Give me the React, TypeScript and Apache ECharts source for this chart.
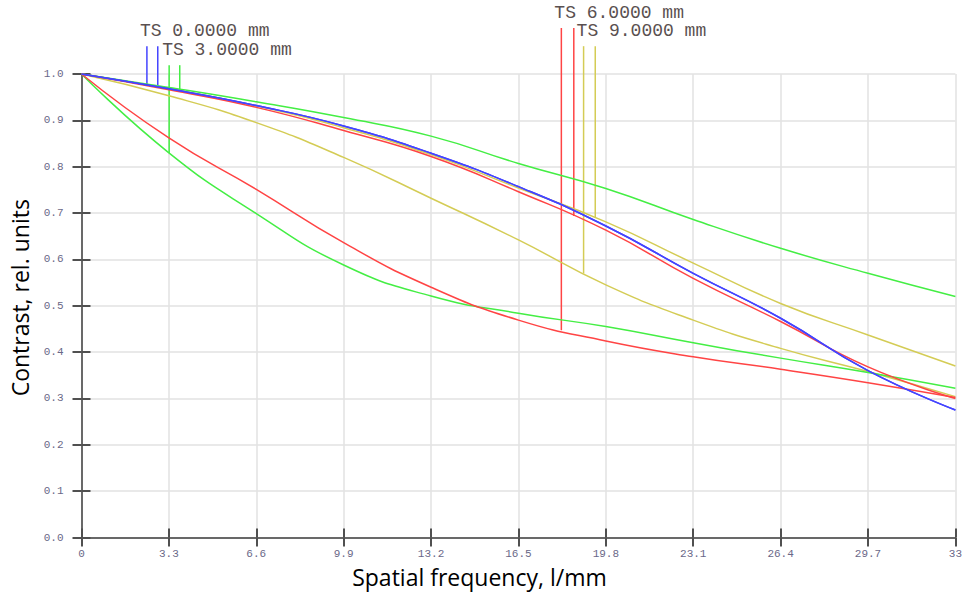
import React, { useEffect, useRef } from "react";
import * as echarts from "echarts";

// ---- data ----
const freq = [0, 3.3, 6.6, 9.9, 13.2, 16.5, 19.8, 23.1, 26.4, 29.7, 33];
const ts0T = [1, 0.968, 0.932, 0.888, 0.829, 0.757, 0.672, 0.57, 0.473, 0.36, 0.275];
const ts0S = [1, 0.968, 0.932, 0.888, 0.829, 0.757, 0.672, 0.57, 0.473, 0.36, 0.275];
const ts3T = [1, 0.83, 0.699, 0.588, 0.521, 0.484, 0.455, 0.42, 0.387, 0.356, 0.322];
const ts3S = [1, 0.971, 0.94, 0.906, 0.866, 0.807, 0.753, 0.686, 0.624, 0.57, 0.52];
const ts6T = [1, 0.862, 0.751, 0.636, 0.54, 0.469, 0.424, 0.39, 0.363, 0.334, 0.302];
const ts6S = [1, 0.966, 0.928, 0.878, 0.822, 0.746, 0.663, 0.559, 0.466, 0.368, 0.3];
const ts9T = [1, 0.953, 0.895, 0.82, 0.732, 0.642, 0.545, 0.469, 0.408, 0.358, 0.304];
const ts9S = [1, 0.968, 0.931, 0.884, 0.826, 0.754, 0.681, 0.592, 0.505, 0.437, 0.37];

const fieldLabels = ["TS 0.0000 mm", "TS 3.0000 mm", "TS 6.0000 mm", "TS 9.0000 mm"];
// marker frequencies (T then S for each field)
const markerFreq = [2.47, 2.88, 3.31, 3.71, 18.12, 18.59, 18.96, 19.4];
const markerField = [0, 0, 1, 1, 2, 2, 3, 3];

// ---- styles / layout ----
const fieldColors = ["#4444ff", "#44ee44", "#ff4444", "#d4cc55"];
const fieldLabelLevel = [1.06, 1.019, 1.099, 1.06];

const curves = [
  { field: 3, data: ts9T },
  { field: 3, data: ts9S },
  { field: 1, data: ts3T },
  { field: 1, data: ts3S },
  { field: 2, data: ts6T },
  { field: 2, data: ts6S },
  { field: 0, data: ts0T },
  { field: 0, data: ts0S },
];
const fieldCurves = [
  [ts0T, ts0S],
  [ts3T, ts3S],
  [ts6T, ts6S],
  [ts9T, ts9S],
];

function interp(arr: number[], x: number): number {
  for (let i = 0; i < freq.length - 1; i++) {
    if (x >= freq[i] && x <= freq[i + 1]) {
      const t = (x - freq[i]) / (freq[i + 1] - freq[i]);
      return arr[i] + (arr[i + 1] - arr[i]) * t;
    }
  }
  return arr[arr.length - 1];
}

export default function App() {
  const ref = useRef<HTMLDivElement>(null);
  useEffect(() => {
    document.body.style.margin = "0";
    if (!ref.current) return;
    const chart = echarts.init(ref.current, null, { renderer: "svg" });

    const tickLabel = {
      color: "#6a6888",
      fontFamily: "Liberation Mono",
      fontSize: 11,
    };
    const axisLine = { show: true, lineStyle: { color: "#606060", width: 1.5 } };
    const axisTick = { show: true, inside: true, length: 9, lineStyle: { color: "#505050", width: 2 } };
    const splitLine = { show: true, lineStyle: { color: "#e2e2e2", width: 1.5 } };

    const markerData = markerFreq.map((x, i) => {
      const f = markerField[i];
      const which = i % 2;
      const yb = interp(fieldCurves[f][which], x);
      return [x, yb, fieldLabelLevel[f], i];
    });

    const option: any = {
      animation: false,
      backgroundColor: "#ffffff",
      grid: { left: 81.5, right: 7.5, top: 74, bottom: 58.5, containLabel: false },
      xAxis: [
        {
          type: "value",
          min: 0,
          max: 33,
          interval: 3.3,
          position: "bottom",
          name: "Spatial frequency, l/mm",
          nameLocation: "middle",
          nameGap: 28,
          nameTextStyle: {
            color: "#000",
            fontFamily: "Open Sans",
            fontSize: 23,
            padding: [0, 78, 0, 0],
          },
          axisLine,
          axisTick,
          splitLine,
          axisLabel: {
            ...tickLabel,
            margin: 11,
            formatter: (v: number) => String(+v.toFixed(1)),
          },
        },
        {
          type: "value",
          min: 0,
          max: 33,
          interval: 3.3,
          position: "top",
          axisLine,
          axisTick,
          splitLine: { show: false },
          axisLabel: { show: false },
        },
      ],
      yAxis: [
        {
          type: "value",
          min: 0,
          max: 1,
          interval: 0.1,
          position: "left",
          name: "Contrast, rel. units",
          nameLocation: "middle",
          nameGap: 50,
          nameTextStyle: {
            color: "#000",
            fontFamily: "Open Sans",
            fontSize: 23,
            padding: [0, 0, 0, 16],
          },
          axisLine,
          axisTick,
          splitLine,
          axisLabel: {
            ...tickLabel,
            margin: 18,
            formatter: (v: number) => v.toFixed(1),
          },
        },
        {
          type: "value",
          min: 0,
          max: 1,
          interval: 0.1,
          position: "right",
          axisLine,
          axisTick,
          splitLine: { show: false },
          axisLabel: { show: false },
        },
      ],
      series: [
        ...curves.map((c) => ({
          type: "line",
          xAxisIndex: 0,
          yAxisIndex: 0,
          data: freq.map((x, i) => [x, c.data[i]]),
          smooth: 0.5,
          showSymbol: false,
          symbol: "none",
          lineStyle: { color: fieldColors[c.field], width: 1.5 },
          silent: true,
        })),
        {
          type: "custom",
          xAxisIndex: 0,
          yAxisIndex: 0,
          clip: false,
          silent: true,
          data: markerData,
          renderItem: (params: any, api: any) => {
            const x = api.value(0);
            const yb = api.value(1);
            const yt = api.value(2);
            const idx = api.value(3);
            const f = markerField[idx];
            const p1 = api.coord([x, yb]);
            const p2 = api.coord([x, yt]);
            const children: any[] = [
              {
                type: "line",
                shape: { x1: p1[0], y1: p1[1], x2: p2[0], y2: p2[1] },
                style: { stroke: fieldColors[f], lineWidth: 1.5 },
              },
            ];
            if (idx % 2 === 0) {
              children.push({
                type: "text",
                style: {
                  text: fieldLabels[f],
                  x: p1[0] - 7,
                  y: p2[1] - 15.5,
                  fill: "#5a5050",
                  font: '18px "Liberation Mono"',
                  align: "left",
                  verticalAlign: "middle",
                },
              });
            }
            return { type: "group", children };
          },
        },
      ],
    };
    chart.setOption(option);
    return () => chart.dispose();
  }, []);
  return <div ref={ref} style={{ width: 965, height: 596 }} />;
}
